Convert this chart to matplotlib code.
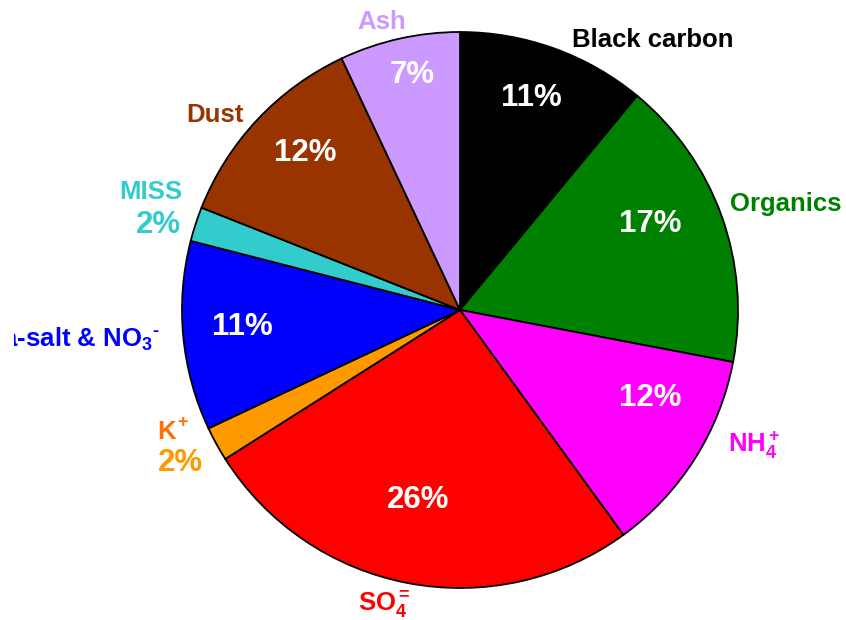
import matplotlib
matplotlib.use("Agg")
import matplotlib.pyplot as plt
from matplotlib.transforms import Bbox

plt.rcParams["font.family"] = ["Liberation Sans", "DejaVu Sans"]
plt.rcParams["mathtext.fontset"] = "custom"
plt.rcParams["mathtext.rm"] = "Liberation Sans:bold"
plt.rcParams["mathtext.bf"] = "Liberation Sans:bold"
plt.rcParams["mathtext.it"] = "Liberation Sans:bold"
plt.rcParams["mathtext.default"] = "bf"

# Aerosol composition (percent), clockwise from the top
components = ["Black carbon", "Organics", "NH4+", "SO4=", "K+",
              "Sea-salt & NO3-", "MISS", "Dust", "Ash"]
shares = [11, 17, 12, 26, 2, 11, 2, 12, 7]
colors = ["#000000", "#008000", "#FF00FF", "#FF0000", "#FF9900",
          "#0000FF", "#33CCCC", "#993300", "#CC99FF"]
label_colors = ["#000000", "#008000", "#FF00FF", "#FF0000", "#FF7000",
                "#0000FF", "#33CCCC", "#993300", "#CC99FF"]
names = ["Black carbon", "Organics", r"NH$_4^+$", r"SO$_4^=$", "K",
         "Sea-salt & NO$_3$$^{\u2010}$", "MISS", "Dust", "Ash"]

W, H = 846, 620
fig = plt.figure(figsize=(W / 100, H / 100), dpi=100)

cx, cy, R = 460, 310, 278
pad = 1.02
ax = fig.add_axes([(cx - R * pad) / W, (H - cy - R * pad) / H,
                   2 * R * pad / W, 2 * R * pad / H])
ax.pie(shares, colors=colors, startangle=90, counterclock=False,
       wedgeprops=dict(edgecolor="black", linewidth=1.3))
ax.set_xlim(-pad, pad)
ax.set_ylim(-pad, pad)
ax.set_aspect("equal")
ax.axis("off")


def put(px, py, s, color, size, ha="center"):
    return fig.text(px / W, 1 - py / H, s, color=color, fontsize=size,
                    fontweight="bold", ha=ha, va="center")


# category names (pixel layout)
name_pos = [(653, 40, "center"), (786, 204, "center"), (728, 445, "left"),
            (358, 604, "left"), (157, 432, "left"), (160, 339, "right"),
            (151, 192, "center"), (215, 115, "center"), (382, 22, "center")]
name_texts = []
for (px, py, ha), s, c in zip(name_pos, names, label_colors):
    name_texts.append(put(px, py, s, c, 18.5, ha=ha))

# charge sign of the potassium label, set tight against the K
put(177, 422, "+", label_colors[4], 13, ha="left")

# the long sea-salt name runs past the left margin and is cut there
name_texts[5].set_clip_box(Bbox([[14, 0], [W, H]]))
name_texts[5].set_clip_on(True)

# in-slice percentages
pct_pos = [(531, 98), (650, 224), (650, 398), (418, 500), None,
           (242, 327), None, (305, 153), (412, 75)]
for pos, v in zip(pct_pos, shares):
    if pos is not None:
        put(pos[0], pos[1], f"{v}%", "white", 22.5)

# small slices get their percentage outside, beneath the name
put(180, 463, f"{shares[4]}%", colors[4], 22.5)
put(158, 225, f"{shares[6]}%", colors[6], 22.5)

fig.savefig("out.png", dpi=100)
